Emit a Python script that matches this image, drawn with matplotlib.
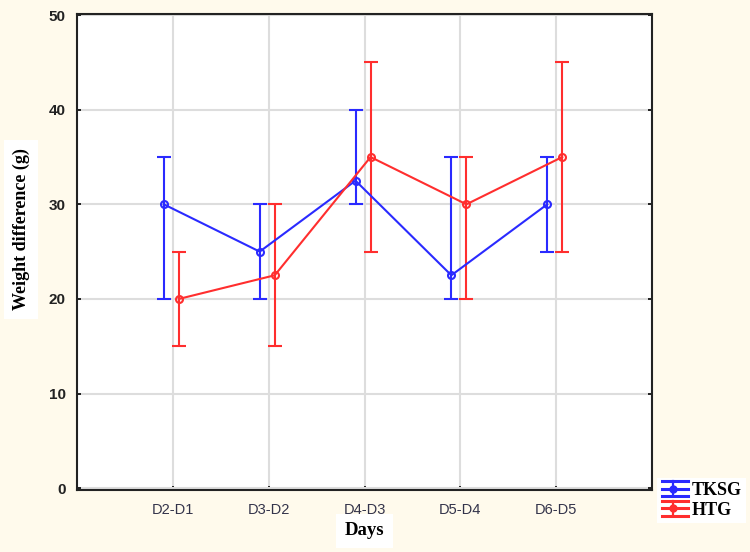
import matplotlib
matplotlib.use("Agg")
import matplotlib.pyplot as plt
from matplotlib.legend_handler import HandlerBase
from matplotlib.lines import Line2D
import numpy as np

categories = ["D2-D1", "D3-D2", "D4-D3", "D5-D4", "D6-D5"]
tksg_mean = [30, 25, 32.5, 22.5, 30]
tksg_low = [20, 20, 30, 20, 25]
tksg_high = [35, 30, 40, 35, 35]
htg_mean = [20, 22.5, 35, 30, 35]
htg_low = [15, 15, 25, 20, 25]
htg_high = [25, 30, 45, 35, 45]
yticks = [0, 10, 20, 30, 40, 50]

BLUE = "#2A2AFF"
RED = "#FF2E2E"
bg = "#FFFAEC"
fig = plt.figure(figsize=(7.5, 5.52), dpi=100, facecolor=bg)
ax = fig.add_axes([0.1027, 0.1123, 0.7667, 0.862])
ax.set_facecolor("white")

x = np.arange(1, len(categories) + 1)

def draw(offset, mean, low, high, color, label):
    mean = np.array(mean); low = np.array(low); high = np.array(high)
    yerr = [mean - low, high - mean]
    return ax.errorbar(x + offset, mean, yerr=yerr, color=color, lw=1.5,
                       elinewidth=1.5, capsize=5, capthick=1.5,
                       marker="o", markersize=5, markerfacecolor="none",
                       markeredgewidth=1.5, label=label)

h1 = draw(-0.094, tksg_mean, tksg_low, tksg_high, BLUE, "TKSG")
h2 = draw(0.063, htg_mean, htg_low, htg_high, RED, "HTG")

ax.set_xlim(0, 6)
ax.set_ylim(-0.2, 50.1)
ax.set_xticks(x)
ax.set_xticklabels(categories, fontsize=10.5, color="#33334A", family="Liberation Sans")
ax.set_yticks(yticks)
ax.set_yticklabels([str(t) for t in yticks], fontsize=11, fontweight="bold",
                   color="#222222", family="Liberation Sans")
ax.grid(True, color="#DDDDDD", lw=1.5)
ax.set_axisbelow(True)
for s in ax.spines.values():
    s.set_linewidth(1.5)
    s.set_color("#222222")
ax.tick_params(axis="both", direction="in", length=3, width=1.2, pad=8,
               right=True, top=False)
ax.tick_params(axis="x", pad=9)

ax.set_ylabel("Weight difference (g)", family="Liberation Serif", fontweight="bold",
              fontsize=13, bbox=dict(facecolor="white", edgecolor="none", pad=6))
ax.yaxis.set_label_coords(-0.082, 0.548)
ax.set_xlabel("Days", family="Liberation Serif", fontweight="bold", fontsize=13.5,
              bbox=dict(facecolor="white", edgecolor="none", pad=6))
ax.xaxis.set_label_coords(0.5, -0.068)


class HandlerBar(HandlerBase):
    def create_artists(self, legend, orig_handle, xdescent, ydescent, width,
                       height, fontsize, trans):
        color = orig_handle[0].get_color()
        ymid = height / 2 - ydescent
        arts = []
        for yy in (ymid - 0.42 * fontsize, ymid, ymid + 0.42 * fontsize):
            arts.append(Line2D([-xdescent, -xdescent + width], [yy, yy],
                               color=color, lw=2.2, transform=trans))
        cx = -xdescent + width * 0.45
        arts.append(Line2D([cx, cx], [ymid - 0.42 * fontsize, ymid + 0.42 * fontsize],
                           color=color, lw=1.6, transform=trans))
        arts.append(Line2D([cx], [ymid], marker="o", markersize=5,
                           color=color, transform=trans))
        return arts


leg = fig.legend(handles=[h1, h2], loc="lower left", bbox_to_anchor=(0.876, 0.052),
                 frameon=True, fancybox=False, edgecolor="none", facecolor="white",
                 framealpha=1, prop=dict(family="Liberation Serif", weight="bold", size=13),
                 handlelength=1.45, handletextpad=0.2, borderpad=0.25, labelspacing=0.15,
                 borderaxespad=0, handler_map={type(h1): HandlerBar()})

fig.savefig("out.png", dpi=100, facecolor=bg)
